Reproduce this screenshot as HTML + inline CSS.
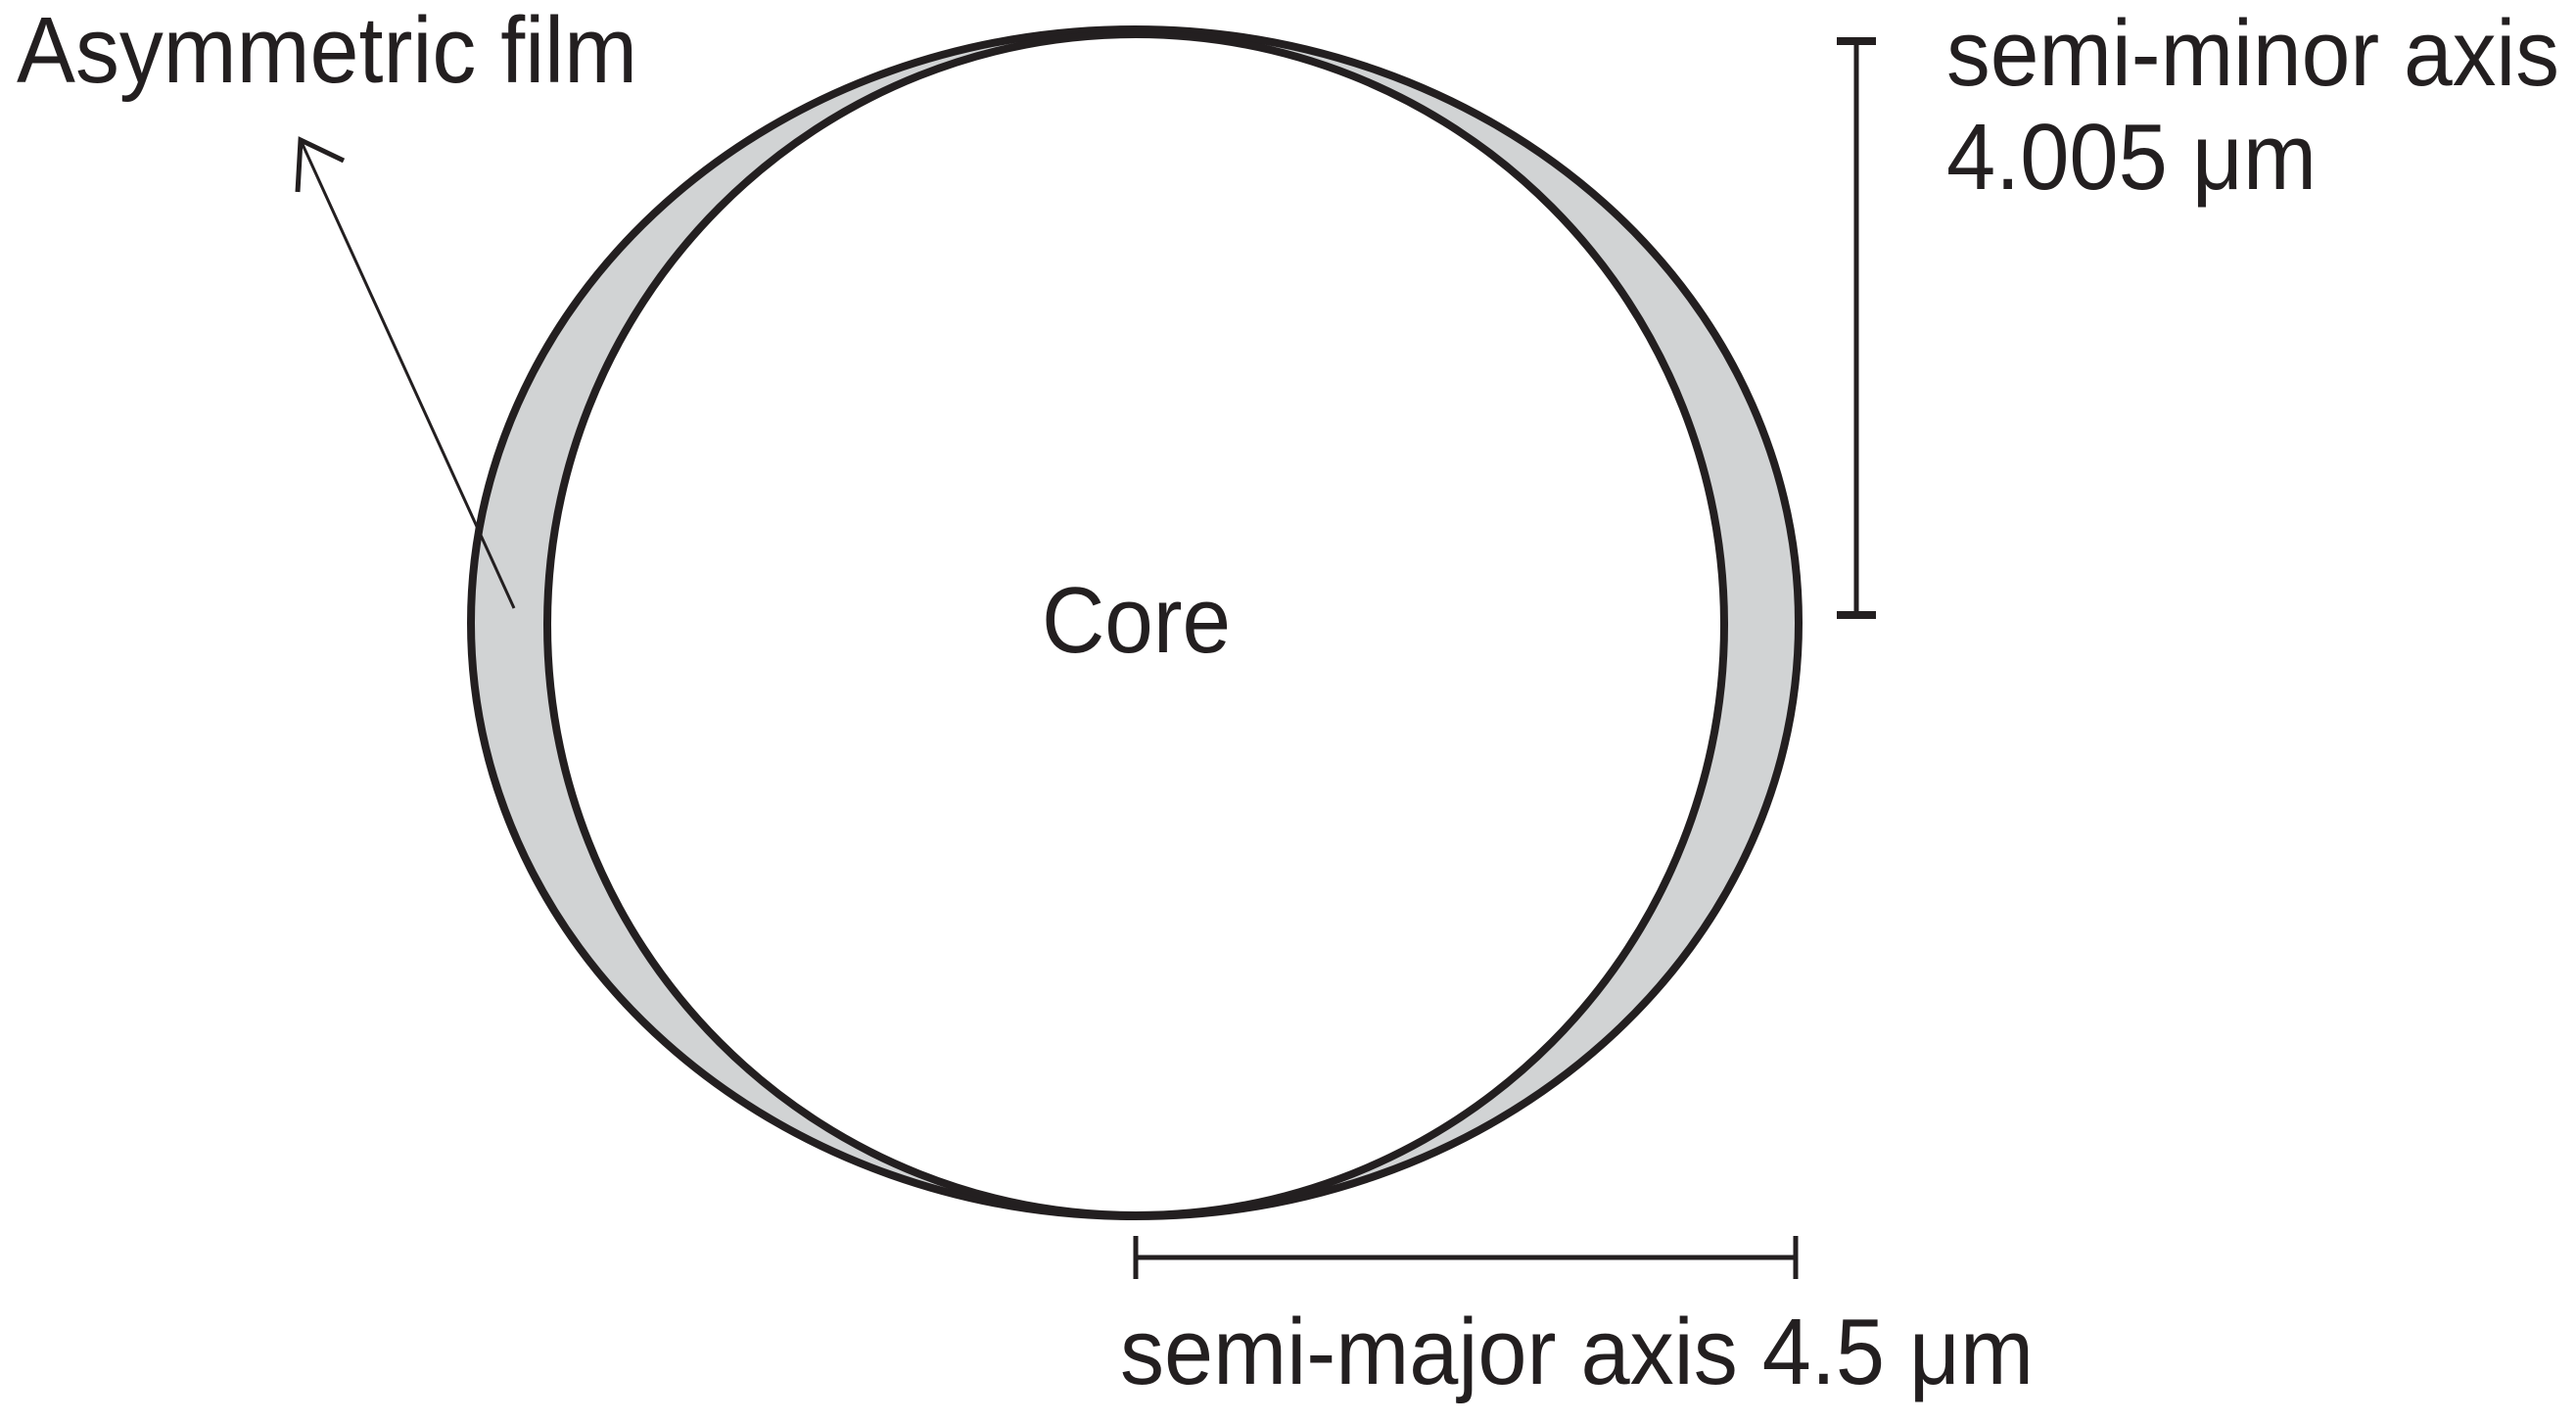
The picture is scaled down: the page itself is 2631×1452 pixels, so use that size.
<!DOCTYPE html>
<html><head><meta charset="utf-8"><style>html,body{margin:0;padding:0;background:#fff}svg{display:block}</style></head>
<body>
<svg width="2631" height="1452" viewBox="0 0 2631 1452" xmlns="http://www.w3.org/2000/svg" font-family="'Liberation Sans', sans-serif" font-size="96" fill="#231f20">
<ellipse cx="1159" cy="636" rx="678" ry="606" fill="#d1d3d4" stroke="#231f20" stroke-width="8"/>
<ellipse cx="1160" cy="638" rx="601" ry="603" fill="#fff" stroke="#231f20" stroke-width="8"/>
<g stroke="#231f20" stroke-width="5" fill="none">
<line x1="1896" y1="42" x2="1896" y2="628"/>
<line x1="1876" y1="42" x2="1916" y2="42" stroke-width="8"/>
<line x1="1876" y1="628" x2="1916" y2="628" stroke-width="8"/>
<line x1="1160" y1="1284" x2="1834" y2="1284"/>
<line x1="1160" y1="1262" x2="1160" y2="1306"/>
<line x1="1834" y1="1262" x2="1834" y2="1306"/>
<line x1="525" y1="621" x2="307" y2="143" stroke-width="3"/>
<polyline points="304,196 307,143 351,164" stroke-width="5"/>
</g>
<text x="17" y="84" textLength="634" lengthAdjust="spacingAndGlyphs">Asymmetric film</text>
<text x="1988" y="87" textLength="626" lengthAdjust="spacingAndGlyphs">semi-minor axis</text>
<text x="1988" y="193" textLength="378" lengthAdjust="spacingAndGlyphs">4.005 μm</text>
<text x="1064" y="666" textLength="193" lengthAdjust="spacingAndGlyphs">Core</text>
<text x="1144" y="1413" textLength="933" lengthAdjust="spacingAndGlyphs">semi-major axis 4.5 μm</text>
</svg>
</body></html>
